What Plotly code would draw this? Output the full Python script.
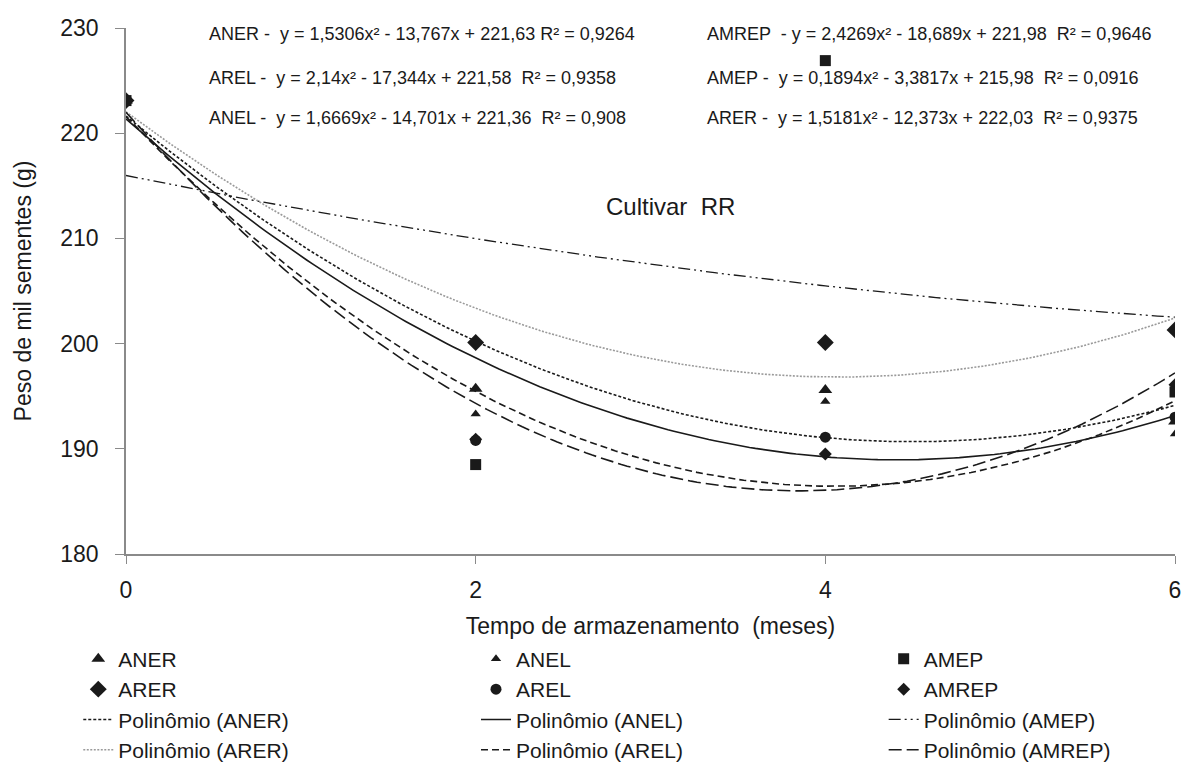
import numpy as np
import plotly.graph_objects as go

# Storage time (months) and thousand-seed weight (g) per treatment
meses = [0, 2, 4, 6]
ANER = [223.1, 195.7, 195.6, 192.6]
ANEL = [223.1, 193.3, 194.5, 191.4]
AMEP = [223.1, 188.5, 226.9, 195.4]
ARER = [223.1, 200.1, 200.1, 201.3]
AREL = [223.1, 190.8, 191.1, 193.0]
AMREP = [223.1, 190.9, 189.5, 196.1]

# Quadratic fits (a, b, c) for y = a x² + b x + c
coef_ANER = [1.5306, -13.767, 221.63]
coef_ANEL = [1.6669, -14.701, 221.36]
coef_AMEP = [0.1894, -3.3817, 215.98]
coef_ARER = [1.5181, -12.373, 222.03]
coef_AREL = [2.14, -17.344, 221.58]
coef_AMREP = [2.4269, -18.689, 221.98]

eq_left = [
    "ANER -  y = 1,5306x² - 13,767x + 221,63 R² = 0,9264",
    "AREL -  y = 2,14x² - 17,344x + 221,58  R² = 0,9358",
    "ANEL -  y = 1,6669x² - 14,701x + 221,36  R² = 0,908",
]
eq_right = [
    "AMREP  - y = 2,4269x² - 18,689x + 221,98  R² = 0,9646",
    "AMEP -  y = 0,1894x² - 3,3817x + 215,98  R² = 0,0916",
    "ARER -  y = 1,5181x² - 12,373x + 222,03  R² = 0,9375",
]

INK = "#1a1a1a"
FONT = "Liberation Sans, Arial, sans-serif"

# page geometry (pixels)
L, R, T, B = 126, 8, 28, 223
W, H = 1189, 779
pw, ph = W - L - R, H - T - B


def px_x(v):
    return (v - L) / pw


def px_y(v):
    return 1 - (v - T) / ph


fig = go.Figure()

xs = np.linspace(0, 6, 181)
fits = [
    ("ANER", coef_ANER, dict(color=INK, width=1.6, dash="3px,2px"), "legend", 3),
    ("ANEL", coef_ANEL, dict(color=INK, width=1.6, dash="solid"), "legend2", 3),
    ("AMEP", coef_AMEP, dict(color=INK, width=1.3, dash="12px,4px,2px,4px,2px,4px"), "legend3", 3),
    ("ARER", coef_ARER, dict(color="#9a9a9a", width=1.6, dash="2px,1.5px"), "legend", 4),
    ("AREL", coef_AREL, dict(color=INK, width=1.6, dash="7px,4px"), "legend2", 4),
    ("AMREP", coef_AMREP, dict(color=INK, width=1.6, dash="13px,5px"), "legend3", 4),
]
for name, coef, line, leg, rank in fits:
    fig.add_trace(go.Scatter(
        x=xs, y=np.polyval(coef, xs), mode="lines",
        name=f"Polinômio ({name})", line=line, legend=leg, legendrank=rank,
    ))

series = [
    ("ARER", ARER, "diamond", 13, "legend", 2),
    ("AMREP", AMREP, "diamond", 10, "legend3", 2),
    ("AREL", AREL, "circle", 11, "legend2", 2),
    ("ANER", ANER, "triangle-up", 12, "legend", 1),
    ("ANEL", ANEL, "triangle-up", 9, "legend2", 1),
    ("AMEP", AMEP, "square", 11, "legend3", 1),
]
for name, vals, sym, size, leg, rank in series:
    fig.add_trace(go.Scatter(
        x=meses, y=vals, mode="markers", name=name,
        marker=dict(symbol=sym, size=size, color=INK),
        legend=leg, legendrank=rank,
    ))

annotations = []
rows_y = [34, 78, 118]
for i, t in enumerate(eq_left):
    annotations.append(dict(x=px_x(207), y=px_y(rows_y[i]), text=t))
for i, t in enumerate(eq_right):
    annotations.append(dict(x=px_x(708), y=px_y(rows_y[i]), text=t))
for a in annotations:
    a.update(xref="paper", yref="paper", showarrow=False, xanchor="left",
             yanchor="middle", font=dict(size=18, color=INK, family=FONT))

annotations.append(dict(x=px_x(674), y=px_y(192), xref="paper", yref="paper",
                        text="Cultivar  RR", showarrow=False,
                        font=dict(size=24, color=INK, family=FONT)))

leg_common = dict(
    orientation="v", yanchor="top", y=px_y(641), xanchor="left",
    font=dict(size=21, color=INK, family=FONT), bgcolor="rgba(0,0,0,0)",
    tracegroupgap=0, traceorder="normal",
)

fig.update_layout(
    width=W, height=H,
    margin=dict(l=L, r=R, t=T, b=B),
    paper_bgcolor="white", plot_bgcolor="white",
    font=dict(family=FONT, color=INK, size=20),
    annotations=annotations,
    showlegend=True,
    legend=dict(x=px_x(78), **leg_common),
    legend2=dict(x=px_x(478), **leg_common),
    legend3=dict(x=px_x(888), **leg_common),
    xaxis=dict(
        range=[0, 6], tickvals=[0, 2, 4, 6], showgrid=False, zeroline=False,
        showline=True, linecolor="#8a8a8a", linewidth=2,
        ticks="outside", ticklen=8, tickcolor="#8a8a8a", tickfont=dict(size=23),
        ticklabelstandoff=6,
        title=dict(text="Tempo de armazenamento  (meses)", font=dict(size=23), standoff=16),
    ),
    yaxis=dict(
        range=[180, 230], tickvals=[180, 190, 200, 210, 220, 230], showgrid=False,
        zeroline=False, showline=True, linecolor="#8a8a8a", linewidth=1.5,
        ticks="outside", ticklen=9, tickcolor="#8a8a8a", tickfont=dict(size=23),
        ticklabelstandoff=12,
        title=dict(text="Peso de mil sementes (g)", font=dict(size=23), standoff=22),
    ),
)

fig.write_html("out.html")
